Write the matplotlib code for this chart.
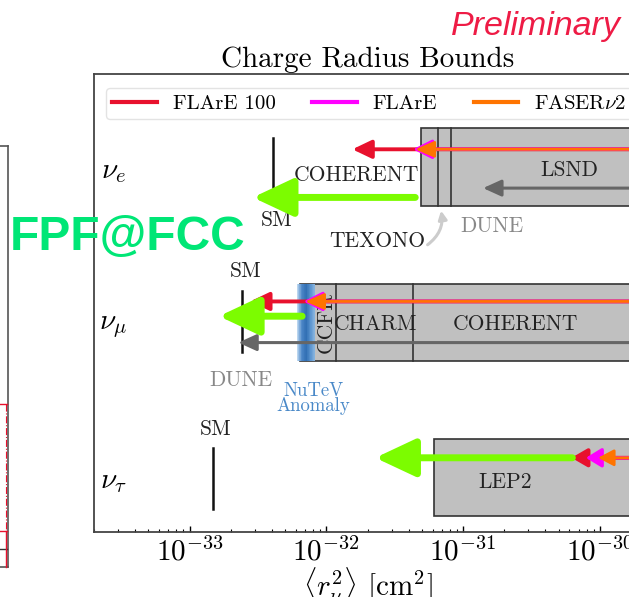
import numpy as np
import matplotlib
matplotlib.use('Agg')
import matplotlib.pyplot as plt
from matplotlib.patches import Rectangle
from matplotlib.lines import Line2D
from matplotlib.colors import LinearSegmentedColormap

plt.rcParams['font.family'] = 'cmr10'
plt.rcParams['mathtext.fontset'] = 'cm'
plt.rcParams['axes.formatter.use_mathtext'] = True

# ---------------- data ----------------
flavours = [r'$\nu_e$', r'$\nu_\mu$', r'$\nu_\tau$']
row_y = [2, 1, 0]
sm_value = [4.1e-33, 2.42e-33, 1.49e-33]
flare100 = [1.55e-32, 2.77e-33, 6.2e-31]
flare = [4.3e-32, 6.8e-33, 7.9e-31]
faser2 = [4.47e-32, 7.0e-33, 9.7e-31]
fpf_fcc = [2.9e-33, 1.64e-33, 2.28e-32]
fpf_from = [4.47e-32, 6.65e-33, 6.3e-31]
dune = [1.40e-31, 2.27e-33, np.nan]
nue_edges = [4.93e-32, 6.5e-32, 8.2e-32]      # COHERENT | TEXONO | LSND
numu_edges = [6.4e-33, 1.18e-32, 4.3e-32]     # CCFR | CHARM | COHERENT
nutau_edges = [6.15e-32]                       # LEP2
nutev_band = [6.1e-33, 8.3e-33]
bound_max = 1e-29
series_labels = ['FLArE 100', 'FLArE', r'FASER$\nu$2']

# ---------------- style ----------------
c_red = '#e8112d'
c_mag = '#ff00ff'
c_org = '#ff7400'
c_grn = '#7cfc00'
c_gry = '#666666'
c_box = '#c0c0c0'

W, H = 629, 597
fig = plt.figure(figsize=(W / 100, H / 100), dpi=100)

def fx(px):
    return px / W

def fy(py):
    return 1 - py / H

ax_l, ax_r, ax_t, ax_b = 94, 641, 74, 532
ax = fig.add_axes([fx(ax_l), fy(ax_b), fx(ax_r - ax_l), (ax_b - ax_t) / H])
ax.set_xscale('log')
ax.set_xlim(2.0e-34, 2.0e-30)
ax.set_ylim(-0.35, 2.6)
ax.set_yticks([])
for s in ax.spines.values():
    s.set_color('#444444')
    s.set_linewidth(1.3)
ax.tick_params(axis='x', which='both', direction='in', top=False, labelsize=21, pad=4)
ax.tick_params(axis='x', which='major', length=4, width=1)
ax.tick_params(axis='x', which='minor', length=2.5, width=0.8)
ax.set_xlabel(r'$\langle r_\nu^2\rangle$ [cm$^2$]', fontsize=21, labelpad=-1)
ax.set_title('Charge Radius Bounds', fontsize=21, pad=5)

# boxes of existing bounds
box_h = 0.25
def box_row(edges, yc):
    ax.add_patch(Rectangle((edges[0], yc - box_h), bound_max - edges[0], 2 * box_h,
                           facecolor=c_box, edgecolor='#333333', lw=1.2, zorder=1))
    for e in edges[1:]:
        ax.plot([e, e], [yc - box_h, yc + box_h], color='#333333', lw=1.2, zorder=1.2)

box_row(nue_edges, row_y[0])
box_row(numu_edges, row_y[1])
box_row(nutau_edges, row_y[2])

# NuTeV anomaly band (gradient)
cmap = LinearSegmentedColormap.from_list('nutev', ['#b9d5ef', '#4f89c8', '#2f6db2', '#5a94cf', '#8ab6e0'])
lo, hi = np.log10(nutev_band[0]), np.log10(nutev_band[1])
nstrip = 30
edges = np.linspace(lo, hi, nstrip + 1)
for i in range(nstrip):
    ax.add_patch(Rectangle((10 ** edges[i], row_y[1] - box_h), 10 ** edges[i + 1] - 10 ** edges[i],
                           2 * box_h, facecolor=cmap(i / (nstrip - 1)), edgecolor='none', zorder=1.5))

# SM lines
sm_ext = [(0.19, -0.13), (0.2, -0.19), (0.19, -0.2)]
for yc, v, (a, b) in zip(row_y, sm_value, sm_ext):
    ax.plot([v, v], [yc + b, yc + a], color='#111111', lw=1.8, zorder=2)

def arrow(tip, start, y, color, lw, hl, hw, z):
    ax.annotate('', xy=(tip, y), xytext=(start, y), annotation_clip=False,
                arrowprops=dict(arrowstyle=f'-|>,head_length={hl},head_width={hw}',
                                color=color, lw=lw, shrinkA=0, shrinkB=0,
                                mutation_scale=10), zorder=z)

# per-row arrow offsets
off_bsm = [0.115, 0.135, 0.128]
off_fpf = [-0.195, 0.04, 0.128]
off_dune = [-0.135, -0.13, 0]

for i, yc in enumerate(row_y):
    if not np.isnan(dune[i]):
        arrow(dune[i], bound_max, yc + off_dune[i], c_gry, 2.2, 1.1, 0.5, 3)
    hsz = 0.95 if i == 2 else 1.15
    arrow(flare100[i], bound_max, yc + off_bsm[i], c_red, 2.8, hsz, 0.55, 4)
    arrow(flare[i], bound_max, yc + off_bsm[i], c_mag, 2.4, hsz, 0.58, 5)
    arrow(faser2[i], bound_max, yc + off_bsm[i], c_org, 2.0, hsz, 0.5, 6)
    arrow(fpf_fcc[i], fpf_from[i], yc + off_fpf[i], c_grn, 5.0, 2.45, 1.15, 7)

# row labels
for lab, yc in zip(flavours, row_y):
    ax.text(0.035, yc - 0.03, lab, transform=ax.get_yaxis_transform(), fontsize=21,
            ha='center', va='center')

tfs = 15.5
# nu_e texts
ax.text(1.65e-32, 1.95, 'COHERENT', fontsize=tfs, ha='center', va='center', color='#222222', zorder=2)
ax.text(5.97e-31, 1.98, 'LSND', fontsize=tfs, ha='center', va='center', color='#222222', zorder=2)
ax.text(1.63e-31, 1.62, 'DUNE', fontsize=tfs, ha='center', va='center', color='#888888')
ax.text(4.3e-33, 1.66, 'SM', fontsize=tfs, ha='center', va='center', color='#222222')
ax.text(2.35e-32, 1.52, 'TEXONO', fontsize=tfs, ha='center', va='center', color='#222222')
ax.annotate('', xy=(6.9e-32, 1.72), xytext=(5.5e-32, 1.5), annotation_clip=False,
            arrowprops=dict(arrowstyle='-|>,head_length=0.5,head_width=0.25', color='#cccccc', lw=2.2,
                            connectionstyle='arc3,rad=0.3', shrinkA=0, shrinkB=0))
# nu_mu texts
ax.text(9.97e-33, 1.0, 'CCFR', fontsize=tfs, ha='center', va='center', rotation=90, color='#222222', zorder=2)
ax.text(2.28e-32, 0.99, 'CHARM', fontsize=tfs, ha='center', va='center', color='#222222', zorder=2)
ax.text(2.4e-31, 0.99, 'COHERENT', fontsize=tfs, ha='center', va='center', color='#222222', zorder=2)
ax.text(2.38e-33, 0.63, 'DUNE', fontsize=tfs, ha='center', va='center', color='#888888')
ax.text(2.55e-33, 1.33, 'SM', fontsize=tfs, ha='center', va='center', color='#222222')
ax.text(8.0e-33, 0.51, 'NuTeV\nAnomaly', fontsize=13.5, ha='center', va='center', color='#4a89c8',
        linespacing=0.75)
# nu_tau texts
ax.text(1.55e-33, 0.31, 'SM', fontsize=tfs, ha='center', va='center', color='#222222')
ax.text(2.03e-31, -0.03, 'LEP2', fontsize=tfs, ha='center', va='center', color='#222222', zorder=2)

# legend
handles = [Line2D([], [], color=c, lw=3) for c in (c_red, c_mag, c_org)]
leg = ax.legend(handles, series_labels, loc='upper center', bbox_to_anchor=(0.503, 0.969), ncol=3,
                fontsize=15, handlelength=2.15, handletextpad=0.75, columnspacing=1.75,
                borderpad=0.3, borderaxespad=0, frameon=True, fancybox=True)
leg.get_frame().set_edgecolor('#dddddd')
leg.get_frame().set_linewidth(1.0)

# left partial panel
axl = fig.add_axes([-0.1, fy(567), 0.1 + fx(7.5), (567 - 146) / H])
axl.set_xticks([]); axl.set_yticks([])
for s in axl.spines.values():
    s.set_color('#555555'); s.set_linewidth(1.2)
axl.set_xlim(0, 1); axl.set_ylim(0, 1)
fig.add_artist(Line2D([0, fx(7)], [fy(404), fy(404)], color=c_red, lw=1.0))
fig.add_artist(Line2D([fx(6.5), fx(6.5)], [fy(404), fy(531)], color=c_red, lw=0.8, ls='-.'))
fig.add_artist(Line2D([0, fx(7)], [fy(531), fy(531)], color=c_red, lw=1.0))
fig.add_artist(Line2D([0, fx(7)], [fy(549), fy(549)], color='#333333', lw=1.0))
fig.add_artist(Line2D([fx(6.5), fx(6.5)], [fy(531), fy(567)], color=c_red, lw=1.0))

# overlay texts
fig.text(fx(127.5), fy(250), 'FPF@FCC', fontsize=34.5, family='Liberation Sans', weight='bold',
         color='#00e676', ha='center', va='baseline', zorder=10)
fig.text(fx(536), fy(35), 'Preliminary', fontsize=24.5, family='Liberation Sans', style='italic',
         color='#ee1b45', ha='center', va='baseline')

fig.savefig('out.png', dpi=100)
